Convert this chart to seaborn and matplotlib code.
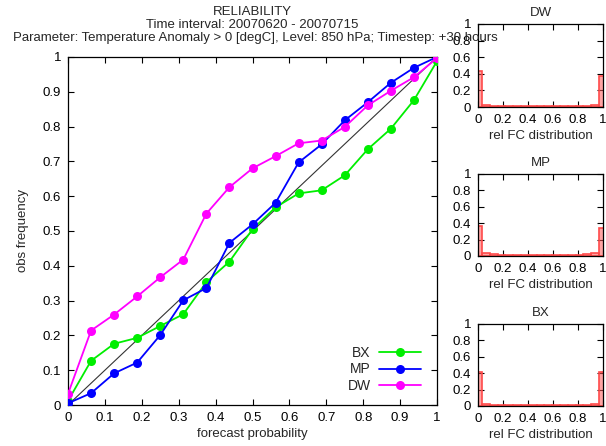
import numpy as np
import pandas as pd
import matplotlib
matplotlib.use("Agg")
import matplotlib.pyplot as plt
import seaborn as sns

# ---- data ----
prob = [0, 0.0625, 0.125, 0.1875, 0.25, 0.3125, 0.375, 0.4375, 0.5,
        0.5625, 0.625, 0.6875, 0.75, 0.8125, 0.875, 0.9375, 1.0]
bx_obs = [0.012, 0.127, 0.176, 0.193, 0.227, 0.261, 0.353, 0.412, 0.505,
          0.568, 0.608, 0.617, 0.660, 0.735, 0.794, 0.876, 0.988]
mp_obs = [0.005, 0.034, 0.091, 0.122, 0.201, 0.301, 0.336, 0.466, 0.519,
          0.581, 0.697, 0.749, 0.818, 0.870, 0.926, 0.969, 1.0]
dw_obs = [0.032, 0.214, 0.260, 0.312, 0.367, 0.418, 0.550, 0.626, 0.680,
          0.715, 0.752, 0.760, 0.799, 0.861, 0.903, 0.942, 0.997]

dw_dist = [0.43, 0.025, 0.018, 0.015, 0.015, 0.015, 0.015, 0.015, 0.015,
           0.015, 0.015, 0.015, 0.015, 0.015, 0.018, 0.03, 0.37]
mp_dist = [0.37, 0.04, 0.02, 0.018, 0.018, 0.018, 0.018, 0.018, 0.018,
           0.018, 0.018, 0.018, 0.018, 0.018, 0.025, 0.04, 0.34]
bx_dist = [0.41, 0.02, 0.015, 0.015, 0.012, 0.012, 0.012, 0.012, 0.012,
           0.012, 0.012, 0.012, 0.012, 0.015, 0.015, 0.025, 0.41]

series_names = ["BX", "MP", "DW"]
series_colors = ["#00ee00", "#0000ff", "#ff00ff"]
ticks_main = [0, 0.1, 0.2, 0.3, 0.4, 0.5, 0.6, 0.7, 0.8, 0.9, 1]
tick_labels_main = ["0", "0.1", "0.2", "0.3", "0.4", "0.5", "0.6", "0.7", "0.8", "0.9", "1"]
ticks_small = [0, 0.2, 0.4, 0.6, 0.8, 1]
tick_labels_small = ["0", "0.2", "0.4", "0.6", "0.8", "1"]

sns.set_theme(style="white")
plt.rcParams['font.family'] = ['Liberation Sans', 'DejaVu Sans']
plt.rcParams['font.size'] = 9.5

W, H = 606, 446
fig = plt.figure(figsize=(W / 100, H / 100), dpi=100)

def px_axes(l, t, r, b):
    return fig.add_axes([l / W, 1 - b / H, (r - l) / W, (b - t) / H])

def style_axes(ax, ticks, labels):
    ax.set_xlim(0, 1)
    ax.set_ylim(0, 1)
    ax.set_xticks(ticks)
    ax.set_xticklabels(labels)
    ax.set_yticks(ticks)
    ax.set_yticklabels(labels)
    ax.tick_params(direction="in", length=4, width=0.8, top=True, right=True,
                   bottom=True, left=True, labelsize=9.5, colors="black", pad=5)
    for s in ax.spines.values():
        s.set_color("black")
        s.set_linewidth(0.9)
    ax.grid(False)

# ---- main reliability axes ----
ax = px_axes(68, 57, 437, 405)
ax.plot([0, 1], [0, 1], color="#333333", lw=0.8, zorder=1)
df = pd.concat([
    pd.DataFrame({"prob": prob, "obs": vals, "model": name})
    for name, vals in zip(series_names, [bx_obs, mp_obs, dw_obs])
])
sns.lineplot(data=df, x="prob", y="obs", hue="model", hue_order=series_names,
             palette=series_colors, marker="o", markersize=6.5, markeredgewidth=0,
             linewidth=1.3, ax=ax, sort=False, zorder=3)
style_axes(ax, ticks_main, tick_labels_main)
ax.set_xlabel("forecast probability", fontsize=9.5, labelpad=3)
ax.set_ylabel("obs frequency", fontsize=9.5, labelpad=10)
leg = ax.legend(loc="lower right", bbox_to_anchor=(0.99, 0.0), frameon=False,
                markerfirst=False, handlelength=3.0, handletextpad=0.6,
                labelspacing=0.15, fontsize=10)
for h in leg.legend_handles:
    h.set_linewidth(1.3)

fig.text(252 / W, 1 - 12 / H, "RELIABILITY", ha="center", va="center", fontsize=9.5)
fig.text(252 / W, 1 - 25 / H, "Time interval: 20070620 - 20070715", ha="center", va="center", fontsize=9.5)
fig.text(255 / W, 1 - 38 / H,
         "Parameter: Temperature Anomaly > 0 [degC], Level: 850 hPa; Timestep: +30 hours",
         ha="center", va="center", fontsize=9.5, zorder=0)

# ---- small distribution histograms ----
small = [("DW", dw_dist, 24, 107), ("MP", mp_dist, 174, 256), ("BX", bx_dist, 324, 406)]
for name, dist, top, bot in small:
    a = px_axes(478, top, 603, bot)
    a.bar(prob, dist, width=0.0625, color=(1.0, 0.35, 0.35, 0.55),
          edgecolor="#ff4a4a", linewidth=1.2, zorder=2)
    style_axes(a, ticks_small, tick_labels_small)
    a.set_title(name, fontsize=9.5, pad=6)
    a.set_xlabel("rel FC distribution", fontsize=9.5, labelpad=3)

fig.savefig("out.png", dpi=100)
